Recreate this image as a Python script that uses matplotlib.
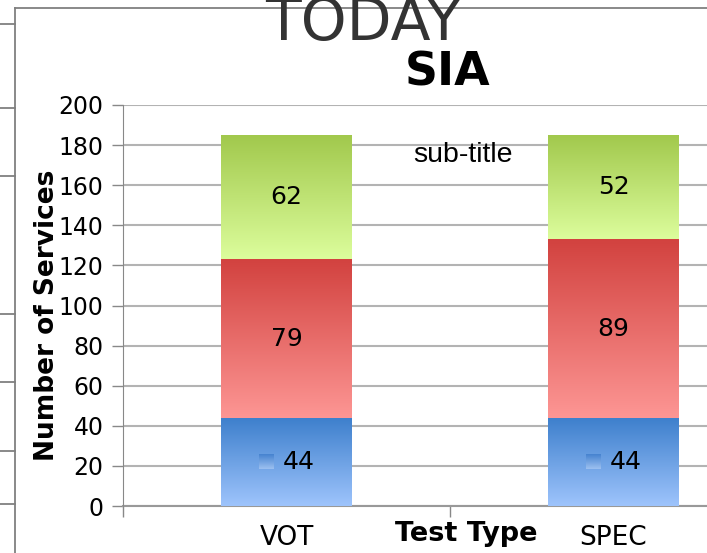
import numpy as np
import matplotlib
matplotlib.use("Agg")
import matplotlib.pyplot as plt
from matplotlib.colors import LinearSegmentedColormap
from matplotlib.lines import Line2D

categories = ['VOT', 'SPEC']
blue_vals = [44, 44]
red_vals = [79, 89]
green_vals = [62, 52]

# gradient colours (top, bottom) per series
blue_grad = ('#3d7fcc', '#9ec4fc')
red_grad = ('#d2423f', '#fd9694')
green_grad = ('#a1c84c', '#dcfd9c')

W, H = 707, 553
fig = plt.figure(figsize=(W / 100, H / 100), dpi=100)
# axes runs off the right edge like in the reference
ax = fig.add_axes([123 / W, 1 - 506 / H, 654 / W, 401 / H])

x = np.arange(len(categories))
barWidth = 0.4


def grad_bars(bottoms, vals, grad):
    bars = ax.bar(x, vals, barWidth, bottom=bottoms, color='none', zorder=3)
    cmap = LinearSegmentedColormap.from_list('g', [grad[1], grad[0]])
    for b in bars:
        x0, y0, w, h = b.get_x(), b.get_y(), b.get_width(), b.get_height()
        img = ax.imshow(np.linspace(0, 1, 256).reshape(-1, 1), cmap=cmap,
                        extent=[x0, x0 + w, y0, y0 + h], origin='lower',
                        aspect='auto', zorder=2, interpolation='bicubic')
        img.set_clip_path(b)
    return bars


b0 = np.zeros(len(categories))
b1 = b0 + np.array(blue_vals)
b2 = b1 + np.array(red_vals)
grad_bars(b0, blue_vals, blue_grad)
grad_bars(b1, red_vals, red_grad)
grad_bars(b2, green_vals, green_grad)

# value labels
for i in range(len(categories)):
    ax.text(x[i], b2[i] + green_vals[i] / 2, str(green_vals[i]), ha='center', va='center', fontsize=18, zorder=5)
    ax.text(x[i], b1[i] + red_vals[i] / 2, str(red_vals[i]), ha='center', va='center', fontsize=18, zorder=5)
    mid = blue_vals[i] / 2
    ax.text(x[i] - 0.01, mid, str(blue_vals[i]), ha='left', va='center', fontsize=18, zorder=5)
    # small legend key next to the label
    kcmap = LinearSegmentedColormap.from_list('k', ['#9cc0f0', '#4683d0'])
    ax.imshow(np.linspace(0, 1, 64).reshape(-1, 1), cmap=kcmap,
              extent=[x[i] - 0.083, x[i] - 0.04, mid - 3.7, mid + 3.7],
              origin='lower', aspect='auto', zorder=4)

ax.set_xlim(-0.5, 1.5)
ax.set_ylim(0, 200)
ax.set_yticks(np.arange(0, 201, 20))
ax.set_xticks([-0.5, 0.5, 1.5])
ax.set_xticklabels([])
ax.set_xticks(x, minor=True)
ax.set_xticklabels(categories, minor=True)
ax.tick_params(axis='x', which='minor', length=0, pad=14, labelsize=19)
ax.tick_params(axis='x', which='major', length=8, color='#888888', width=1)
ax.tick_params(axis='y', length=8, color='#888888', width=1, pad=6, labelsize=17)
ax.yaxis.grid(True, color='#b3b3b3', linewidth=1.5, zorder=0)
ax.set_axisbelow(True)
for s in ['top', 'right', 'bottom']:
    ax.spines[s].set_visible(False)
ax.spines['left'].set_color('#888888')
ax.axhline(0, color='#999999', linewidth=1.5, zorder=1, clip_on=False)

# titles and labels
fig.text(363 / W, 1 - 40 / H, 'TODAY', ha='center', va='baseline', fontsize=42, color='#333333')
fig.text(448 / W, 1 - 86 / H, 'SIA', ha='center', va='baseline', fontsize=33, fontweight='bold')
fig.text(463 / W, 1 - 155 / H, 'sub-title', ha='center', va='center', fontsize=20.5, family='Liberation Sans')
fig.text(47 / W, 1 - 315 / H, 'Number of Services', rotation=90, ha='center', va='center',
         fontsize=19, fontweight='bold')
fig.text(466 / W, 1 - 534 / H, 'Test Type', ha='center', va='center', fontsize=19.5, fontweight='bold')

# outer frame lines
def px_line(xs, ys, **kw):
    fig.add_artist(Line2D([v / W for v in xs], [1 - v / H for v in ys], color='#808080', linewidth=1.3, **kw))


px_line([15, 15], [8, H])
px_line([15, W], [8, 8])
for yy in [24, 108, 176, 314, 382, 451, 504]:
    px_line([0, 15], [yy, yy])

fig.savefig('out.png', dpi=100)
